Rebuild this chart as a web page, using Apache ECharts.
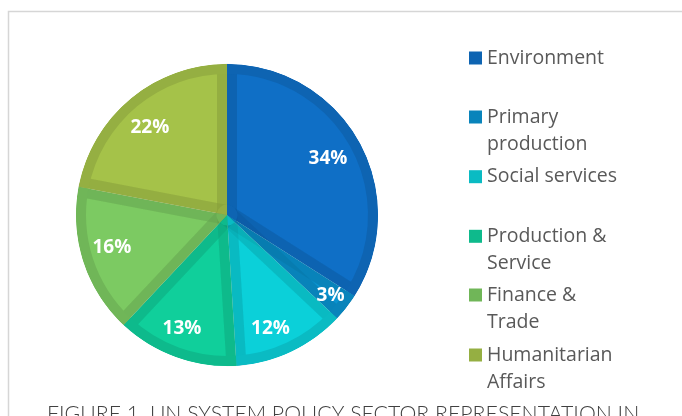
<!DOCTYPE html>
<html>
<head>
<meta charset="utf-8">
<script src="https://cdn.jsdelivr.net/npm/echarts@6/dist/echarts.min.js"></script>
<style>
  html, body { margin: 0; padding: 0; background: #ffffff; }
  #chart { width: 682px; height: 416px; }
</style>
</head>
<body>
<div id="chart"></div>
<script>
// ---- data ----
const categories = ['Environment', 'Primary production', 'Social services', 'Production & Service', 'Finance & Trade', 'Humanitarian Affairs'];
const legendLabels = ['Environment', 'Primary\nproduction', 'Social services', 'Production &\nService', 'Finance &\nTrade', 'Humanitarian\nAffairs'];
const shares = [34, 3, 12, 13, 16, 22];
const titleText = 'FIGURE 1. UN SYSTEM POLICY SECTOR REPRESENTATION IN';

// ---- styles ----
const fillColors = ['#0F6FC6', '#0A93D0', '#0BD0D9', '#10CF9B', '#7CCA62', '#A5C249'];
const bandColors = ['#0E64B2', '#0984BB', '#0ABBC3', '#0EBA8C', '#70B658', '#95AF42'];
const legendCenters = [58, 117, 176.7, 236.3, 295, 355];
const labelNudges = [[-5, 2], [8, 6], [-8, 4], [-4, 0], [0, -5], [0, 6]];

const chart = echarts.init(document.getElementById('chart'), null, { renderer: 'canvas' });

const center = [227, 215];
const R = 151;       // outer radius
const band = 10;     // inner band width
const lineH = 27;

const legends = categories.map((name, i) => {
  const lines = legendLabels[i].split('\n').length;
  const text = (lines > 1 ? '\n' : '') + legendLabels[i];
  const blockH = (lines > 1 ? lines + 1 : 1) * lineH;
  return {
    data: [name],
    orient: 'vertical',
    left: 469,
    top: legendCenters[i] - blockH / 2,
    padding: 0,
    itemWidth: 13,
    itemHeight: 13,
    icon: 'rect',
    selectedMode: false,
    formatter: () => text,
    itemStyle: { color: bandColors[i], borderWidth: 0 },
    textStyle: {
      fontFamily: 'Open Sans',
      fontSize: 19.5,
      color: '#595959',
      lineHeight: lineH
    }
  };
});

const basePie = {
  type: 'pie',
  center: center,
  startAngle: 90,
  clockwise: true,
  silent: true,
  label: { show: false },
  labelLine: { show: false },
  emphasis: { disabled: true }
};

const option = {
  animation: false,
  backgroundColor: '#ffffff',
  title: {
    text: titleText,
    left: 47,
    top: 404,
    padding: 0,
    textStyle: {
      fontFamily: 'Lato',
      fontWeight: 300,
      fontSize: 21.3,
      color: '#404040'
    }
  },
  legend: legends,
  graphic: [{
    type: 'rect',
    silent: true,
    z: -10,
    shape: { x: 8.5, y: 11.5, width: 700, height: 420 },
    style: { fill: 'none', stroke: '#D6D6D6', lineWidth: 1.5 }
  }],
  series: [
    // light slice fills
    Object.assign({}, basePie, {
      name: 'fill',
      radius: [0, R],
      data: categories.map((n, i) => ({ name: n, value: shares[i], itemStyle: { color: fillColors[i], borderWidth: 0 } }))
    }),
    // darkening strokes along the radial edges (overlapping halves give the inner band)
    Object.assign({}, basePie, {
      name: 'edges',
      radius: [0, R + band + 1],
      itemStyle: { color: 'rgba(0,0,0,0)', borderColor: 'rgba(0,0,0,0.0513)', borderWidth: band * 2, borderJoin: 'round' },
      data: categories.map((n, i) => ({ name: n, value: shares[i] }))
    }),
    // outer band ring
    Object.assign({}, basePie, {
      name: 'rim',
      radius: [R - band, R],
      data: categories.map((n, i) => ({ name: n, value: shares[i], itemStyle: { color: bandColors[i], borderWidth: 0 } }))
    }),
    // centre hub
    Object.assign({}, basePie, {
      name: 'hub',
      radius: [0, band + 0.5],
      data: categories.map((n, i) => ({ name: n, value: shares[i], itemStyle: { color: bandColors[i], borderWidth: 0 } }))
    }),
    // white mask outside the pie
    Object.assign({}, basePie, {
      name: 'mask',
      radius: [R + 0.3, R + 2 * band + 6],
      data: [{ value: 1, itemStyle: { color: '#ffffff', borderWidth: 0 } }]
    }),
    // percentage labels
    Object.assign({}, basePie, {
      name: 'labels',
      radius: [85, R],
      itemStyle: { color: 'rgba(0,0,0,0)', borderWidth: 0 },
      label: {
        show: true,
        position: 'inside',
        formatter: '{c}%',
        color: '#ffffff',
        fontFamily: 'Open Sans',
        fontWeight: 'bold',
        fontSize: 19
      },
      labelLayout: function (p) {
        const n = labelNudges[p.dataIndex];
        return { dx: n[0], dy: n[1] };
      },
      data: categories.map((n, i) => ({ name: n, value: shares[i] }))
    })
  ]
};

chart.setOption(option);
</script>
</body>
</html>
